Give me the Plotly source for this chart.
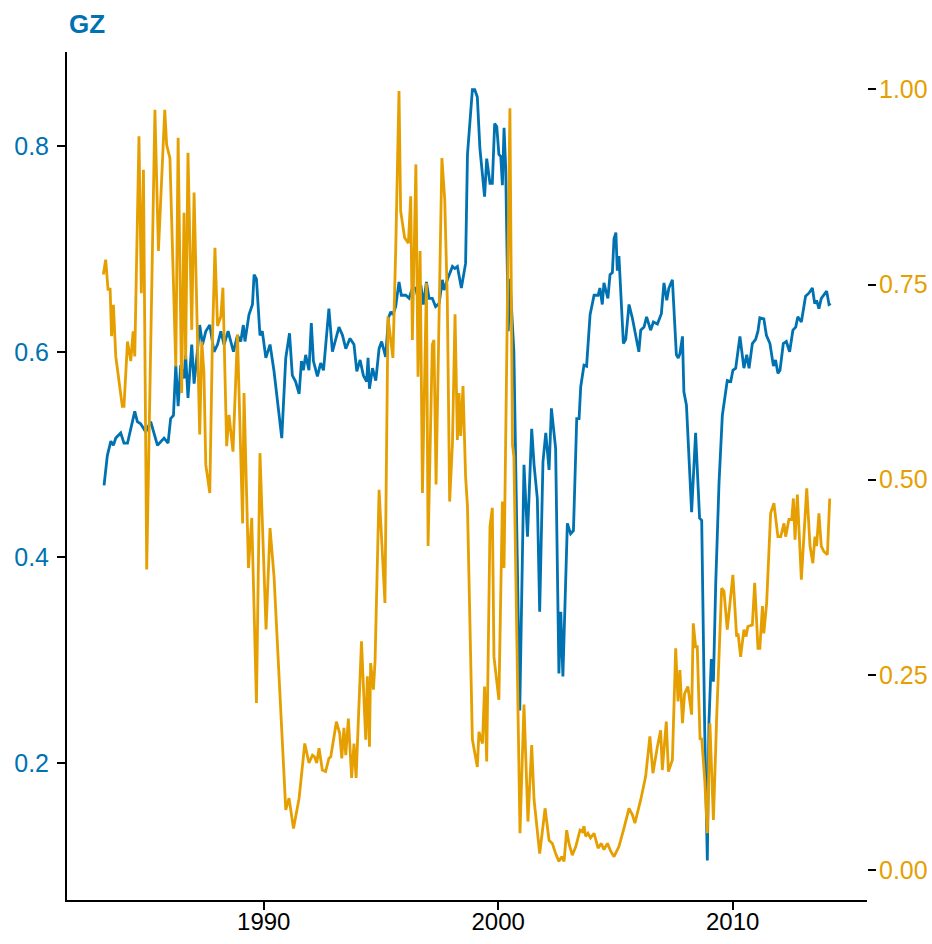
import plotly.graph_objects as go

# GZ series (left axis), decimal years
gz_year = [
    1983.19, 1983.33, 1983.48, 1983.59, 1983.69, 1983.90, 1984.04, 1984.19, 1984.50, 1984.61,
    1984.75, 1984.97, 1985.18, 1985.47, 1985.75, 1985.92, 1986.03, 1986.15, 1986.25, 1986.35,
    1986.46, 1986.60, 1986.67, 1986.77, 1986.93, 1987.03, 1987.17, 1987.27, 1987.39, 1987.53,
    1987.70, 1987.88, 1988.03, 1988.17, 1988.31, 1988.48, 1988.71, 1988.88, 1989.02, 1989.13,
    1989.20, 1989.37, 1989.52, 1989.59, 1989.69, 1989.84, 1989.94, 1990.09, 1990.27, 1990.44,
    1990.77, 1990.94, 1991.10, 1991.22, 1991.36, 1991.51, 1991.61, 1991.69, 1991.79, 1991.93,
    1992.03, 1992.12, 1992.29, 1992.43, 1992.55, 1992.78, 1992.93, 1993.21, 1993.36, 1993.50,
    1993.68, 1993.85, 1993.97, 1994.11, 1994.25, 1994.39, 1994.45, 1994.51, 1994.64, 1994.78,
    1994.92, 1995.03, 1995.20, 1995.32, 1995.42, 1995.51, 1995.63, 1995.77, 1995.87, 1996.06,
    1996.20, 1996.34, 1996.48, 1996.58, 1996.70, 1996.81, 1996.94, 1997.05, 1997.19, 1997.33,
    1997.48, 1997.62, 1997.69, 1997.83, 1998.05, 1998.15, 1998.26, 1998.43, 1998.61, 1998.69,
    1998.90, 1999.00, 1999.11, 1999.22, 1999.42, 1999.51, 1999.65, 1999.75, 1999.85, 1999.94,
    2000.03, 2000.11, 2000.18, 2000.25, 2000.32, 2000.43, 2000.50, 2000.67, 2000.92, 2001.10,
    2001.25, 2001.43, 2001.53, 2001.67, 2001.77, 2001.91, 2002.03, 2002.17, 2002.27, 2002.45,
    2002.59, 2002.67, 2002.76, 2002.95, 2003.09, 2003.21, 2003.35, 2003.45, 2003.52, 2003.66,
    2003.77, 2003.92, 2004.09, 2004.26, 2004.34, 2004.44, 2004.51, 2004.68, 2004.77, 2004.87,
    2004.94, 2005.02, 2005.08, 2005.15, 2005.34, 2005.44, 2005.58, 2005.72, 2006.00, 2006.08,
    2006.22, 2006.33, 2006.50, 2006.62, 2006.79, 2006.96, 2007.07, 2007.19, 2007.28, 2007.43,
    2007.60, 2007.68, 2007.75, 2007.86, 2007.92, 2008.03, 2008.25, 2008.42, 2008.59, 2008.68,
    2008.81, 2008.92, 2008.99, 2009.09, 2009.18, 2009.28, 2009.42, 2009.56, 2009.77, 2009.92,
    2010.01, 2010.13, 2010.31, 2010.48, 2010.60, 2010.70, 2010.84, 2010.98, 2011.08, 2011.16,
    2011.33, 2011.44, 2011.59, 2011.74, 2011.83, 2011.93, 2012.02, 2012.16, 2012.29, 2012.43,
    2012.57, 2012.69, 2012.78, 2012.93, 2013.11, 2013.25, 2013.40, 2013.50, 2013.58, 2013.68,
    2013.78, 2014.01, 2014.11, 2014.18,
]
gz_value = [
    0.470, 0.499, 0.513, 0.509, 0.516, 0.521, 0.511, 0.511, 0.542, 0.532,
    0.530, 0.522, 0.532, 0.509, 0.516, 0.511, 0.535, 0.538, 0.587, 0.547,
    0.587, 0.574, 0.597, 0.555, 0.607, 0.569, 0.600, 0.626, 0.607, 0.620,
    0.626, 0.600, 0.607, 0.620, 0.607, 0.620, 0.600, 0.616, 0.610, 0.626,
    0.610, 0.636, 0.646, 0.675, 0.671, 0.616, 0.620, 0.594, 0.607, 0.581,
    0.516, 0.594, 0.618, 0.577, 0.571, 0.559, 0.591, 0.582, 0.597, 0.582,
    0.628, 0.591, 0.576, 0.589, 0.582, 0.642, 0.600, 0.624, 0.616, 0.603,
    0.613, 0.607, 0.581, 0.592, 0.577, 0.571, 0.594, 0.564, 0.584, 0.572,
    0.603, 0.610, 0.595, 0.633, 0.639, 0.636, 0.644, 0.668, 0.655, 0.655,
    0.652, 0.662, 0.662, 0.652, 0.665, 0.646, 0.668, 0.652, 0.652, 0.644,
    0.647, 0.670, 0.660, 0.670, 0.683, 0.681, 0.683, 0.662, 0.686, 0.792,
    0.855, 0.855, 0.848, 0.798, 0.751, 0.788, 0.764, 0.764, 0.822, 0.819,
    0.792, 0.790, 0.762, 0.818, 0.779, 0.620, 0.671, 0.600, 0.251, 0.490,
    0.420, 0.525, 0.490, 0.457, 0.347, 0.493, 0.521, 0.485, 0.545, 0.506,
    0.287, 0.347, 0.284, 0.433, 0.423, 0.426, 0.535, 0.535, 0.566, 0.587,
    0.586, 0.636, 0.655, 0.655, 0.662, 0.646, 0.667, 0.652, 0.675, 0.677,
    0.710, 0.716, 0.679, 0.693, 0.608, 0.612, 0.646, 0.633, 0.600, 0.621,
    0.624, 0.634, 0.621, 0.629, 0.627, 0.637, 0.667, 0.650, 0.662, 0.670,
    0.597, 0.594, 0.598, 0.615, 0.561, 0.548, 0.444, 0.521, 0.438, 0.436,
    0.230, 0.105, 0.240, 0.301, 0.279, 0.376, 0.473, 0.538, 0.572, 0.571,
    0.582, 0.584, 0.615, 0.584, 0.597, 0.584, 0.608, 0.612, 0.620, 0.633,
    0.632, 0.616, 0.608, 0.586, 0.592, 0.579, 0.582, 0.608, 0.610, 0.600,
    0.621, 0.624, 0.634, 0.629, 0.654, 0.657, 0.662, 0.647, 0.650, 0.642,
    0.652, 0.659, 0.646, 0.647,
]

# Second series (right axis), decimal years
sec_year = [
    1983.16, 1983.26, 1983.36, 1983.45, 1983.51, 1983.59, 1983.69, 1983.97, 1984.04, 1984.19,
    1984.33, 1984.43, 1984.50, 1984.68, 1984.78, 1984.87, 1985.01, 1985.36, 1985.51, 1985.78,
    1985.86, 1986.00, 1986.25, 1986.35, 1986.50, 1986.60, 1986.67, 1986.77, 1986.93, 1987.03,
    1987.27, 1987.36, 1987.45, 1987.53, 1987.70, 1987.81, 1987.92, 1988.03, 1988.17, 1988.26,
    1988.42, 1988.52, 1988.69, 1988.88, 1989.10, 1989.16, 1989.35, 1989.49, 1989.69, 1989.84,
    1990.10, 1990.27, 1990.44, 1990.72, 1990.94, 1991.08, 1991.27, 1991.51, 1991.75, 1991.93,
    1992.08, 1992.17, 1992.26, 1992.36, 1992.50, 1992.64, 1992.78, 1992.86, 1993.10, 1993.24,
    1993.33, 1993.42, 1993.50, 1993.61, 1993.75, 1993.85, 1993.94, 1994.17, 1994.35, 1994.42,
    1994.51, 1994.56, 1994.68, 1994.75, 1994.92, 1995.17, 1995.30, 1995.51, 1995.63, 1995.77,
    1995.84, 1996.01, 1996.17, 1996.27, 1996.34, 1996.49, 1996.58, 1996.67, 1996.77, 1996.94,
    1997.01, 1997.19, 1997.26, 1997.35, 1997.48, 1997.60, 1997.72, 1997.83, 1997.93, 1998.05,
    1998.16, 1998.26, 1998.33, 1998.40, 1998.50, 1998.61, 1998.69, 1998.90, 1999.11, 1999.18,
    1999.33, 1999.42, 1999.51, 1999.65, 1999.75, 1999.82, 2000.03, 2000.18, 2000.25, 2000.50,
    2000.61, 2000.67, 2000.93, 2001.10, 2001.27, 2001.43, 2001.53, 2001.77, 2001.91, 2002.00,
    2002.17, 2002.31, 2002.45, 2002.59, 2002.71, 2002.81, 2002.92, 2003.02, 2003.16, 2003.31,
    2003.49, 2003.59, 2003.66, 2003.73, 2003.83, 2003.94, 2004.09, 2004.26, 2004.40, 2004.51,
    2004.66, 2004.80, 2004.94, 2005.15, 2005.36, 2005.58, 2005.72, 2005.83, 2006.08, 2006.29,
    2006.47, 2006.60, 2006.79, 2006.93, 2007.00, 2007.17, 2007.26, 2007.43, 2007.57, 2007.67,
    2007.75, 2007.86, 2007.95, 2008.09, 2008.25, 2008.32, 2008.42, 2008.49, 2008.61, 2008.68,
    2008.81, 2008.92, 2009.03, 2009.18, 2009.32, 2009.42, 2009.53, 2009.63, 2009.77, 2010.01,
    2010.17, 2010.23, 2010.34, 2010.48, 2010.57, 2010.65, 2010.84, 2010.94, 2011.08, 2011.16,
    2011.27, 2011.33, 2011.45, 2011.62, 2011.76, 2011.93, 2012.05, 2012.19, 2012.26, 2012.40,
    2012.52, 2012.59, 2012.66, 2012.76, 2012.93, 2013.16, 2013.30, 2013.42, 2013.51, 2013.58,
    2013.68, 2013.78, 2013.89, 2014.04, 2014.14,
]
sec_value = [
    0.763, 0.782, 0.744, 0.744, 0.684, 0.724, 0.658, 0.594, 0.594, 0.677,
    0.652, 0.690, 0.658, 0.940, 0.739, 0.897, 0.385, 0.974, 0.793, 0.974,
    0.929, 0.912, 0.645, 0.938, 0.611, 0.842, 0.654, 0.919, 0.692, 0.868,
    0.558, 0.677, 0.637, 0.519, 0.483, 0.675, 0.797, 0.697, 0.709, 0.746,
    0.543, 0.583, 0.536, 0.686, 0.444, 0.611, 0.387, 0.451, 0.214, 0.534,
    0.308, 0.438, 0.376, 0.209, 0.077, 0.092, 0.053, 0.092, 0.162, 0.137,
    0.147, 0.145, 0.137, 0.156, 0.128, 0.126, 0.143, 0.145, 0.190, 0.175,
    0.143, 0.182, 0.147, 0.194, 0.118, 0.162, 0.118, 0.293, 0.167, 0.248,
    0.158, 0.265, 0.231, 0.269, 0.487, 0.342, 0.709, 0.656, 0.795, 0.998,
    0.844, 0.810, 0.803, 0.863, 0.679, 0.904, 0.632, 0.793, 0.483, 0.752,
    0.415, 0.673, 0.679, 0.494, 0.739, 0.912, 0.859, 0.731, 0.472, 0.547,
    0.712, 0.551, 0.611, 0.556, 0.620, 0.504, 0.466, 0.167, 0.132, 0.177,
    0.162, 0.235, 0.139, 0.440, 0.464, 0.273, 0.218, 0.472, 0.387, 0.976,
    0.545, 0.530, 0.047, 0.212, 0.062, 0.160, 0.090, 0.021, 0.056, 0.079,
    0.038, 0.034, 0.021, 0.011, 0.017, 0.011, 0.051, 0.034, 0.019, 0.030,
    0.051, 0.049, 0.056, 0.043, 0.047, 0.041, 0.047, 0.028, 0.034, 0.026,
    0.034, 0.024, 0.017, 0.030, 0.053, 0.079, 0.071, 0.060, 0.090, 0.120,
    0.171, 0.124, 0.158, 0.179, 0.128, 0.190, 0.126, 0.141, 0.284, 0.216,
    0.256, 0.188, 0.226, 0.235, 0.199, 0.316, 0.286, 0.286, 0.167, 0.169,
    0.115, 0.047, 0.188, 0.064, 0.197, 0.269, 0.361, 0.357, 0.308, 0.378,
    0.299, 0.303, 0.273, 0.308, 0.299, 0.312, 0.314, 0.368, 0.284, 0.284,
    0.338, 0.303, 0.342, 0.457, 0.470, 0.427, 0.427, 0.444, 0.427, 0.449,
    0.449, 0.476, 0.423, 0.481, 0.372, 0.489, 0.415, 0.393, 0.427, 0.415,
    0.457, 0.415, 0.408, 0.404, 0.476,
]

left_ticks = [0.2, 0.4, 0.6, 0.8]
right_ticks = [0.0, 0.25, 0.5, 0.75, 1.0]
year_ticks = [1990, 2000, 2010]

BLUE = "#0072B2"
ORANGE = "#E69F00"
FONT = "Liberation Sans, Arial, sans-serif"

fig = go.Figure()
fig.add_trace(go.Scatter(x=gz_year, y=gz_value, mode="lines",
                         line=dict(color=BLUE, width=2.8), yaxis="y", showlegend=False))
fig.add_trace(go.Scatter(x=sec_year, y=sec_value, mode="lines",
                         line=dict(color=ORANGE, width=2.8), yaxis="y2", showlegend=False))

fig.update_layout(
    width=932, height=944,
    margin=dict(l=67, r=65, t=52, b=44),
    paper_bgcolor="white", plot_bgcolor="white",
    font=dict(family=FONT, size=25, color="black"),
    xaxis=dict(
        range=[1981.61, 2015.73], tickvals=year_ticks, ticktext=[str(t) for t in year_ticks],
        showgrid=False, zeroline=False, showline=True, linecolor="black", linewidth=2,
        ticks="outside", ticklen=8, tickwidth=2, tickcolor="black",
        tickfont=dict(size=24, color="black"), ticklabelstandoff=-9, automargin=False,
    ),
    yaxis=dict(
        range=[0.0665, 0.8917], tickvals=left_ticks, tickformat=".1f",
        showgrid=False, zeroline=False, showline=True, linecolor="black", linewidth=2,
        ticks="outside", ticklen=8, tickwidth=2, tickcolor="black",
        tickfont=dict(size=25, color=BLUE), ticklabelstandoff=3, automargin=False,
    ),
    yaxis2=dict(
        range=[-0.0385, 1.048], tickvals=right_ticks, tickformat=".2f",
        overlaying="y", side="right",
        showgrid=False, zeroline=False, showline=False,
        ticks="outside", ticklen=8, tickwidth=2, tickcolor="black",
        tickfont=dict(size=25, color=ORANGE), ticklabelstandoff=-2, automargin=False,
    ),
    annotations=[dict(
        text="<b>GZ</b>", x=0, xref="paper", xanchor="left",
        y=1.0328, yref="paper", yanchor="middle", showarrow=False,
        font=dict(family=FONT, size=26, color=BLUE),
    )],
)

fig.write_html("out.html")
